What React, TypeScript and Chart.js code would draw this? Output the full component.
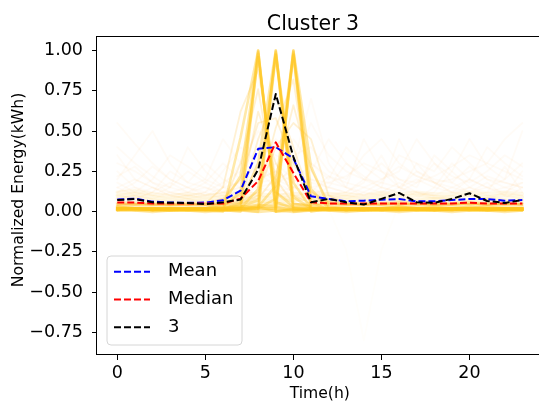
import React, { useEffect, useRef } from "react";
import { Chart, registerables } from "chart.js";

Chart.register(...registerables);

// ---------------- data ----------------
const hours = [0, 1, 2, 3, 4, 5, 6, 7, 8, 9, 10, 11, 12, 13, 14, 15, 16, 17, 18, 19, 20, 21, 22, 23];
const xTicks = [0, 5, 10, 15, 20];
const yTicks = [-0.75, -0.5, -0.25, 0, 0.25, 0.5, 0.75, 1.0];

const chartTitle = "Cluster 3";
const xLabel = "Time(h)";
const yLabel = "Normalized Energy(kWh)";
const legendLabels = ["Mean", "Median", "3"];

const meanValues = [0.075, 0.08, 0.062, 0.056, 0.055, 0.056, 0.07, 0.13, 0.39, 0.4, 0.33, 0.095, 0.078, 0.064, 0.068, 0.074, 0.078, 0.064, 0.064, 0.072, 0.078, 0.078, 0.068, 0.072];
const medianValues = [0.056, 0.056, 0.05, 0.05, 0.05, 0.05, 0.05, 0.08, 0.19, 0.43, 0.24, 0.058, 0.051, 0.051, 0.051, 0.051, 0.051, 0.051, 0.051, 0.051, 0.055, 0.051, 0.051, 0.051];
const clusterValues = [0.072, 0.078, 0.058, 0.055, 0.054, 0.046, 0.058, 0.075, 0.26, 0.73, 0.34, 0.058, 0.079, 0.058, 0.044, 0.079, 0.116, 0.058, 0.054, 0.079, 0.114, 0.066, 0.054, 0.072];

// bright single-peak profiles (peaks at 8h, 9h, 10h)
const peakProfiles = [
  [0.02, 0.02, 0.01, 0.01, 0.01, 0.01, 0.02, 0.04, 1.0, 0.03, 0.01, 0.01, 0.01, 0.01, 0.02, 0.01, 0.01, 0.01, 0.01, 0.02, 0.01, 0.01, 0.02, 0.01],
  [0.01, 0.01, 0.01, 0.02, 0.01, 0.01, 0.01, 0.0, 0.98, 0.06, 0.02, 0.01, 0.01, 0.02, 0.01, 0.01, 0.01, 0.02, 0.01, 0.01, 0.01, 0.02, 0.01, 0.01],
  [0.01, 0.02, 0.01, 0.01, 0.01, 0.01, 0.0, 0.46, 1.0, 0.0, 0.01, 0.01, 0.02, 0.01, 0.01, 0.01, 0.02, 0.01, 0.01, 0.01, 0.02, 0.01, 0.01, 0.02],
  [0.03, 0.02, 0.02, 0.01, 0.01, 0.02, 0.03, 0.12, 0.96, 0.12, 0.03, 0.02, 0.02, 0.01, 0.02, 0.02, 0.03, 0.02, 0.02, 0.02, 0.03, 0.02, 0.02, 0.02],
  [0.02, 0.02, 0.02, 0.02, 0.02, 0.02, 0.05, 0.22, 0.99, 0.0, 0.02, 0.02, 0.02, 0.02, 0.02, 0.02, 0.02, 0.02, 0.02, 0.02, 0.02, 0.02, 0.02, 0.02],
  [0.02, 0.01, 0.01, 0.01, 0.01, 0.01, 0.01, 0.02, 0.02, 1.0, 0.02, 0.01, 0.01, 0.01, 0.01, 0.01, 0.01, 0.01, 0.01, 0.02, 0.01, 0.01, 0.01, 0.01],
  [0.01, 0.02, 0.01, 0.01, 0.01, 0.01, 0.02, 0.03, 0.07, 0.99, 0.0, 0.01, 0.02, 0.01, 0.01, 0.02, 0.01, 0.01, 0.01, 0.01, 0.01, 0.01, 0.02, 0.01],
  [0.02, 0.02, 0.01, 0.01, 0.02, 0.01, 0.01, 0.01, 0.0, 0.97, 0.09, 0.02, 0.01, 0.01, 0.01, 0.01, 0.02, 0.01, 0.02, 0.01, 0.02, 0.01, 0.01, 0.02],
  [0.03, 0.02, 0.02, 0.02, 0.02, 0.02, 0.02, 0.05, 0.3, 1.0, 0.05, 0.03, 0.02, 0.02, 0.02, 0.02, 0.03, 0.02, 0.02, 0.02, 0.02, 0.03, 0.02, 0.02],
  [0.02, 0.02, 0.02, 0.02, 0.02, 0.02, 0.02, 0.02, 0.14, 0.98, 0.18, 0.02, 0.02, 0.02, 0.02, 0.02, 0.02, 0.02, 0.02, 0.02, 0.02, 0.02, 0.02, 0.02],
  [0.01, 0.01, 0.01, 0.01, 0.01, 0.01, 0.01, 0.01, 0.02, 0.02, 1.0, 0.02, 0.01, 0.01, 0.01, 0.01, 0.01, 0.01, 0.01, 0.01, 0.01, 0.01, 0.01, 0.01],
  [0.02, 0.01, 0.01, 0.02, 0.01, 0.01, 0.01, 0.02, 0.03, 0.0, 0.98, 0.06, 0.01, 0.01, 0.02, 0.01, 0.01, 0.02, 0.01, 0.01, 0.02, 0.01, 0.01, 0.01],
  [0.01, 0.02, 0.01, 0.01, 0.01, 0.02, 0.01, 0.01, 0.02, 0.08, 0.97, 0.0, 0.02, 0.01, 0.01, 0.01, 0.02, 0.01, 0.01, 0.02, 0.01, 0.01, 0.02, 0.01],
  [0.02, 0.02, 0.02, 0.02, 0.02, 0.02, 0.03, 0.03, 0.04, 0.03, 1.0, 0.28, 0.03, 0.02, 0.02, 0.02, 0.02, 0.02, 0.03, 0.02, 0.02, 0.02, 0.02, 0.02],
  [0.02, 0.02, 0.02, 0.02, 0.02, 0.02, 0.02, 0.02, 0.03, 0.16, 0.99, 0.14, 0.02, 0.02, 0.02, 0.02, 0.02, 0.02, 0.02, 0.02, 0.02, 0.02, 0.02, 0.02],
];

// medium-strength morning profiles
const fanProfiles = [
  [0.05, 0.04, 0.05, 0.04, 0.04, 0.05, 0.05, 0.1, 0.62, 0.3, 0.1, 0.05, 0.04, 0.05, 0.04, 0.05, 0.06, 0.05, 0.04, 0.05, 0.06, 0.05, 0.04, 0.05],
  [0.04, 0.05, 0.04, 0.04, 0.05, 0.04, 0.05, 0.06, 0.45, 0.72, 0.4, 0.08, 0.05, 0.04, 0.05, 0.04, 0.05, 0.05, 0.04, 0.05, 0.05, 0.04, 0.05, 0.04],
  [0.05, 0.05, 0.04, 0.05, 0.04, 0.04, 0.05, 0.05, 0.08, 0.22, 0.66, 0.26, 0.06, 0.05, 0.04, 0.05, 0.05, 0.04, 0.05, 0.05, 0.04, 0.05, 0.05, 0.04],
  [0.04, 0.04, 0.05, 0.04, 0.05, 0.04, 0.05, 0.3, 0.76, 0.12, 0.05, 0.04, 0.05, 0.04, 0.04, 0.05, 0.04, 0.05, 0.04, 0.04, 0.05, 0.04, 0.05, 0.04],
  [0.05, 0.04, 0.04, 0.05, 0.04, 0.05, 0.04, 0.05, 0.1, 0.52, 0.82, 0.1, 0.05, 0.04, 0.05, 0.04, 0.05, 0.04, 0.05, 0.04, 0.05, 0.05, 0.04, 0.05],
  [0.06, 0.05, 0.05, 0.04, 0.05, 0.05, 0.08, 0.2, 0.55, 0.58, 0.3, 0.12, 0.06, 0.05, 0.05, 0.06, 0.05, 0.05, 0.06, 0.05, 0.05, 0.06, 0.05, 0.05],
  [0.05, 0.05, 0.04, 0.05, 0.05, 0.04, 0.05, 0.06, 0.12, 0.4, 0.55, 0.45, 0.1, 0.05, 0.05, 0.04, 0.05, 0.05, 0.04, 0.05, 0.05, 0.04, 0.05, 0.05],
  [0.04, 0.05, 0.05, 0.04, 0.04, 0.05, 0.15, 0.62, 0.88, 0.2, 0.05, 0.04, 0.05, 0.05, 0.04, 0.05, 0.04, 0.05, 0.05, 0.04, 0.05, 0.04, 0.05, 0.05],
];

// low-level everyday profiles (the dense band near zero)
const baseProfiles = [
  [0.01, 0.01, 0.0, 0.01, 0.01, 0.0, 0.01, 0.01, 0.0, 0.01, 0.0, 0.01, 0.01, 0.0, 0.01, 0.01, 0.0, 0.01, 0.01, 0.0, 0.01, 0.01, 0.0, 0.01],
  [0.02, 0.02, 0.02, 0.01, 0.02, 0.02, 0.01, 0.02, 0.02, 0.02, 0.01, 0.02, 0.02, 0.02, 0.01, 0.02, 0.02, 0.02, 0.01, 0.02, 0.02, 0.01, 0.02, 0.02],
  [0.03, 0.04, 0.03, 0.03, 0.03, 0.03, 0.04, 0.03, 0.03, 0.04, 0.03, 0.03, 0.03, 0.04, 0.03, 0.03, 0.04, 0.03, 0.03, 0.03, 0.04, 0.03, 0.03, 0.03],
  [0.05, 0.06, 0.05, 0.04, 0.05, 0.05, 0.05, 0.06, 0.05, 0.05, 0.04, 0.05, 0.06, 0.05, 0.05, 0.05, 0.06, 0.05, 0.04, 0.05, 0.06, 0.05, 0.05, 0.05],
  [0.08, 0.09, 0.07, 0.06, 0.07, 0.06, 0.07, 0.08, 0.07, 0.06, 0.07, 0.08, 0.07, 0.07, 0.06, 0.08, 0.07, 0.07, 0.08, 0.07, 0.07, 0.08, 0.07, 0.07],
  [0.1, 0.11, 0.09, 0.08, 0.09, 0.08, 0.09, 0.1, 0.09, 0.08, 0.09, 0.1, 0.09, 0.09, 0.08, 0.1, 0.09, 0.1, 0.09, 0.09, 0.1, 0.09, 0.1, 0.09],
  [0.12, 0.13, 0.11, 0.1, 0.11, 0.1, 0.11, 0.12, 0.11, 0.1, 0.11, 0.12, 0.11, 0.11, 0.1, 0.12, 0.11, 0.12, 0.11, 0.11, 0.12, 0.11, 0.12, 0.11],
];

// faint, scattered profiles
const faintProfiles = [
  [0.55, 0.42, 0.3, 0.2, 0.15, 0.12, 0.18, 0.25, 0.4, 0.35, 0.3, 0.2, 0.18, 0.22, 0.3, 0.25, 0.2, 0.18, 0.22, 0.28, 0.35, 0.3, 0.25, 0.2],
  [0.2, 0.35, 0.5, 0.3, 0.18, 0.15, 0.12, 0.2, 0.3, 0.45, 0.35, 0.4, 0.25, 0.2, 0.35, 0.45, 0.3, 0.22, 0.18, 0.2, 0.25, 0.3, 0.45, 0.55],
  [0.1, 0.12, 0.2, 0.35, 0.28, 0.2, 0.45, 0.3, 0.5, 0.4, 0.28, 0.55, 0.35, 0.25, 0.2, 0.18, 0.35, 0.3, 0.25, 0.4, 0.3, 0.2, 0.18, 0.15],
  [0.3, 0.25, 0.18, 0.15, 0.4, 0.25, 0.15, 0.18, 0.35, 0.25, 0.45, 0.3, 0.2, 0.4, 0.28, 0.2, 0.25, 0.45, 0.3, 0.22, 0.18, 0.25, 0.35, 0.28],
  [0.15, 0.2, 0.15, 0.12, 0.1, 0.12, 0.25, 0.4, 0.3, 0.2, 0.15, 0.25, 0.45, 0.3, 0.2, 0.3, 0.2, 0.15, 0.35, 0.25, 0.45, 0.28, 0.2, 0.3],
  [0.25, 0.15, 0.12, 0.25, 0.18, 0.3, 0.2, 0.15, 0.25, 0.3, 0.2, 0.15, 0.18, 0.15, 0.45, 0.25, 0.15, 0.2, 0.15, 0.3, 0.2, 0.15, 0.2, 0.5],
  [0.4, 0.3, 0.22, 0.15, 0.12, 0.1, 0.12, 0.15, 0.2, 0.25, 0.18, 0.3, 0.22, 0.18, 0.15, 0.2, 0.28, 0.22, 0.18, 0.15, 0.2, 0.4, 0.3, 0.22],
  [0.12, 0.18, 0.28, 0.2, 0.15, 0.2, 0.15, 0.3, 0.25, 0.15, 0.3, 0.7, 0.3, 0.15, 0.12, 0.18, 0.15, 0.25, 0.2, 0.18, 0.28, 0.2, 0.15, 0.18],
  [0.18, 0.12, 0.1, 0.15, 0.25, 0.18, 0.12, 0.1, 0.18, 0.2, 0.25, 0.18, 0.15, 0.3, 0.22, 0.15, 0.45, 0.25, 0.18, 0.12, 0.15, 0.22, 0.18, 0.15],
  [0.08, 0.1, 0.15, 0.1, 0.08, 0.1, 0.15, 0.12, 0.15, 0.18, 0.12, 0.1, 0.15, 0.12, 0.18, 0.35, 0.15, 0.1, 0.12, 0.25, 0.15, 0.12, 0.28, 0.12],
  [0.22, 0.28, 0.18, 0.12, 0.1, 0.08, 0.1, 0.2, 0.28, 0.18, 0.22, 0.15, 0.1, 0.12, 0.2, 0.15, 0.12, 0.18, 0.3, 0.18, 0.12, 0.15, 0.12, 0.18],
  [0.1, 0.08, 0.12, 0.18, 0.12, 0.15, 0.1, 0.08, 0.12, 0.15, 0.1, 0.12, 0.22, 0.15, 0.1, 0.12, 0.18, 0.12, 0.1, 0.15, 0.12, 0.18, 0.1, 0.25],
  [0.35, 0.2, 0.15, 0.1, 0.12, 0.18, 0.3, 0.2, 0.15, 0.12, 0.15, 0.2, 0.15, 0.12, 0.1, 0.15, 0.12, 0.3, 0.18, 0.12, 0.1, 0.12, 0.15, 0.12],
  [0.12, 0.15, 0.1, 0.08, 0.1, 0.12, 0.08, 0.1, 0.2, 0.25, 0.15, 0.12, 0.08, 0.1, 0.15, 0.12, 0.1, 0.08, 0.15, 0.12, 0.2, 0.15, 0.1, 0.08],
  [0.05, 0.08, 0.12, 0.1, 0.08, 0.05, 0.08, 0.1, 0.08, 0.12, 0.1, 0.08, 0.12, 0.1, 0.08, 0.1, 0.08, 0.12, 0.1, 0.08, 0.1, 0.08, 0.12, 0.1],
  [0.15, 0.1, 0.08, 0.12, 0.15, 0.1, 0.12, 0.15, 0.1, 0.08, 0.15, 0.12, 0.1, 0.08, 0.12, 0.1, 0.15, 0.12, 0.08, 0.1, 0.15, 0.1, 0.08, 0.15],
];

// one outlier profile with a negative dip
const dipProfile = [0.05, 0.05, 0.04, 0.05, 0.04, 0.05, 0.06, 0.08, 0.1, 0.12, 0.08, 0.05, 0.02, -0.24, -0.8, -0.24, 0.05, 0.04, 0.05, 0.06, 0.05, 0.04, 0.05, 0.05];

// ---------------- styles ----------------
const FONT = "'DejaVu Sans', 'Liberation Sans', sans-serif";
const baseAlphas = [0.4, 0.35, 0.25, 0.2, 0.16, 0.13, 0.1];
const lineColors = ["#0000ff", "#ff0000", "#000000"];

export default function App() {
  const ref = useRef<HTMLCanvasElement>(null);

  useEffect(() => {
    const canvas = ref.current;
    if (!canvas) return;
    const toPts = (vals: number[]) => hours.map((h, i) => ({ x: h, y: vals[i] }));
    const line = (vals: number[], color: string, width: number, dash?: number[]) => ({
      data: toPts(vals),
      borderColor: color,
      borderWidth: width,
      borderDash: dash || [],
      borderJoinStyle: "round",
      borderCapStyle: dash ? "butt" : "round",
      pointRadius: 0,
      fill: false,
      tension: 0,
    });

    const datasets: any[] = [];
    // first dataset is drawn on top
    datasets.push(line(clusterValues, lineColors[2], 2, [7, 3]));
    datasets.push(line(medianValues, lineColors[1], 2, [7, 3]));
    datasets.push(line(meanValues, lineColors[0], 2, [7, 3]));
    peakProfiles.forEach((p) => datasets.push(line(p, "rgba(255,198,30,0.38)", 2.6)));
    fanProfiles.forEach((p) => datasets.push(line(p, "rgba(255,185,40,0.2)", 1.8)));
    baseProfiles.forEach((p, i) => datasets.push(line(p, `rgba(255,200,50,${baseAlphas[i]})`, 3.5)));
    faintProfiles.forEach((p) => datasets.push(line(p, "rgba(255,165,50,0.045)", 1.8)));
    datasets.push(line(dipProfile, "rgba(255,190,60,0.02)", 1.8));

    const decor = {
      id: "decor",
      afterDatasetsDraw(chart: any) {
        const { ctx, chartArea: a } = chart;
        ctx.save();
        // frame (spines)
        ctx.strokeStyle = "#000";
        ctx.lineWidth = 1;
        ctx.strokeRect(Math.round(a.left) - 0.5, Math.round(a.top) + 0.5, a.right - a.left, a.bottom - a.top - 1);

        // legend
        const bx = 107, by = 256, bw = 135, bh = 89, r = 4;
        ctx.beginPath();
        ctx.moveTo(bx + r, by);
        ctx.lineTo(bx + bw - r, by);
        ctx.quadraticCurveTo(bx + bw, by, bx + bw, by + r);
        ctx.lineTo(bx + bw, by + bh - r);
        ctx.quadraticCurveTo(bx + bw, by + bh, bx + bw - r, by + bh);
        ctx.lineTo(bx + r, by + bh);
        ctx.quadraticCurveTo(bx, by + bh, bx, by + bh - r);
        ctx.lineTo(bx, by + r);
        ctx.quadraticCurveTo(bx, by, bx + r, by);
        ctx.closePath();
        ctx.fillStyle = "rgba(255,255,255,0.8)";
        ctx.fill();
        ctx.strokeStyle = "#d6d6d6";
        ctx.lineWidth = 1;
        ctx.stroke();

        ctx.font = `18px ${FONT}`;
        ctx.textBaseline = "middle";
        ctx.textAlign = "left";
        legendLabels.forEach((lab, i) => {
          const y = 271.7 + i * 27.8;
          ctx.beginPath();
          ctx.setLineDash([7, 3]);
          ctx.strokeStyle = lineColors[i];
          ctx.lineWidth = 2;
          ctx.moveTo(114, y);
          ctx.lineTo(150, y);
          ctx.stroke();
          ctx.setLineDash([]);
          ctx.fillStyle = "#000";
          ctx.fillText(lab, 168, y);
        });

        // title and axis labels
        ctx.fillStyle = "#000";
        ctx.textBaseline = "alphabetic";
        ctx.textAlign = "center";
        ctx.font = `20.5px ${FONT}`;
        ctx.fillText(chartTitle, 313, 30);
        ctx.font = `15.6px ${FONT}`;
        ctx.fillText(xLabel, (a.left + a.right) / 2, 397.5);
        ctx.save();
        ctx.translate(23, 190);
        ctx.rotate(-Math.PI / 2);
        ctx.fillText(yLabel, 0, 0);
        ctx.restore();
        ctx.restore();
      },
    };

    const chart = new Chart(canvas, {
      type: "line",
      data: { datasets },
      options: {
        responsive: false,
        animation: false,
        devicePixelRatio: 1,
        events: [],
        layout: { padding: { left: 5, top: 36, right: 7.4, bottom: 0 } },
        plugins: {
          legend: { display: false },
          tooltip: { enabled: false },
          title: { display: false },
        },
        scales: {
          x: {
            type: "linear",
            min: -1.15,
            max: 24.15,
            afterBuildTicks: (s: any) => {
              s.ticks = xTicks.map((v) => ({ value: v }));
            },
            afterFit: (s: any) => {
              s.height = 48;
            },
            ticks: {
              autoSkip: false,
              maxRotation: 0,
              padding: 3,
              color: "#000",
              font: { family: FONT, size: 17.5 },
              callback: (v: any) => String(v),
            },
            grid: { drawOnChartArea: false, drawTicks: true, tickLength: 5, color: "#000", lineWidth: 1 },
            border: { display: false },
          },
          y: {
            type: "linear",
            min: -0.89,
            max: 1.09,
            afterBuildTicks: (s: any) => {
              s.ticks = yTicks.map((v) => ({ value: v }));
            },
            afterFit: (s: any) => {
              s.width = 92;
            },
            ticks: {
              autoSkip: false,
              padding: 9,
              color: "#000",
              font: { family: FONT, size: 17.5 },
              callback: (v: any) => (v < 0 ? "\u2212" : "") + Math.abs(Number(v)).toFixed(2),
            },
            grid: { drawOnChartArea: false, drawTicks: true, tickLength: 5, color: "#000", lineWidth: 1 },
            border: { display: false },
          },
        },
      },
      plugins: [decor],
    } as any);

    return () => chart.destroy();
  }, []);

  return (
    <canvas
      ref={ref}
      width={550}
      height={403}
      style={{ position: "fixed", left: 0, top: 0, width: 550, height: 403, display: "block", background: "#fff" }}
    />
  );
}
